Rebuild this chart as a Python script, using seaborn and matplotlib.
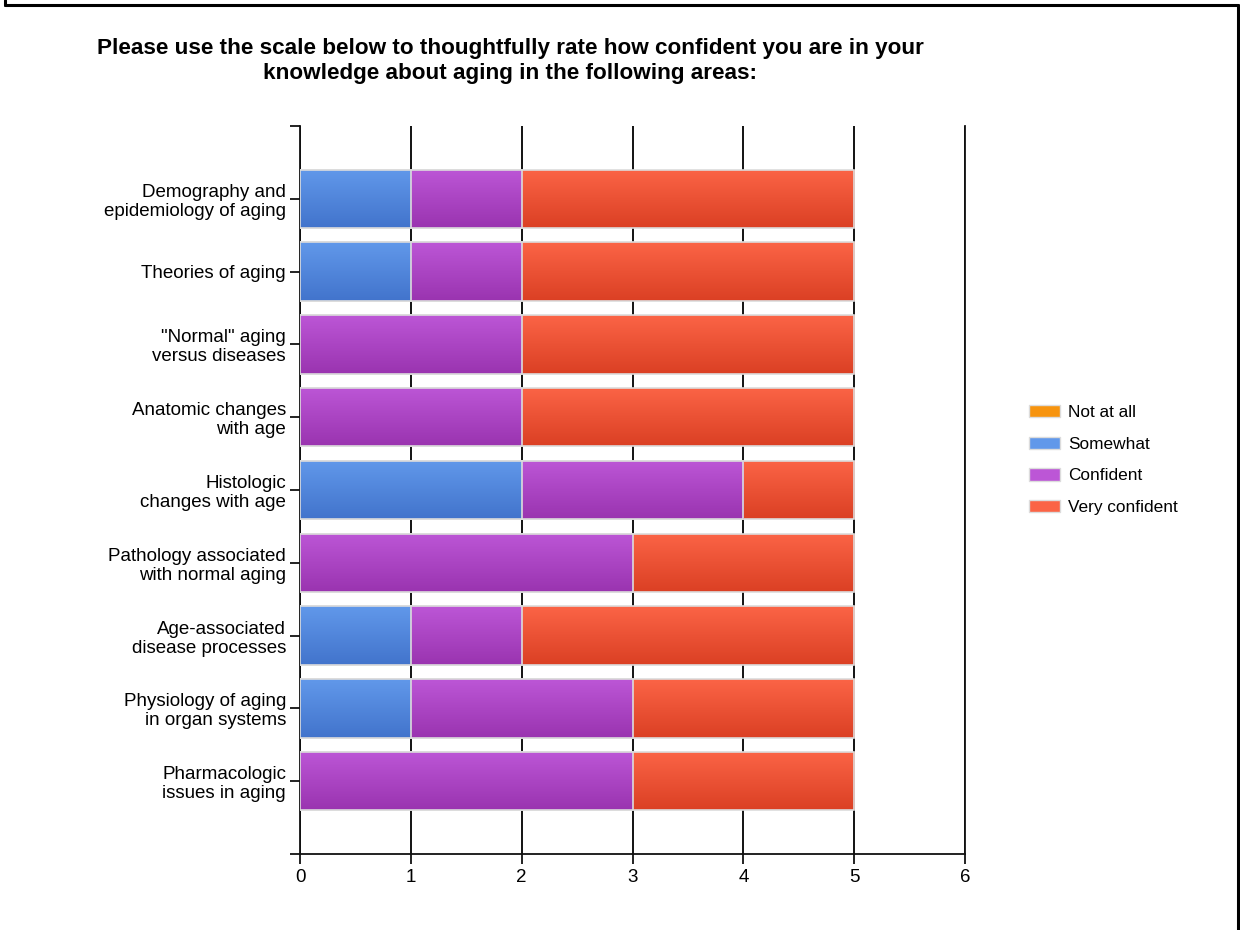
import numpy as np
import pandas as pd
import matplotlib
matplotlib.use("Agg")
import matplotlib.pyplot as plt
import seaborn as sns
from matplotlib.colors import LinearSegmentedColormap
from matplotlib.patches import Patch
from matplotlib.lines import Line2D

topics = [
    "Demography and\nepidemiology of aging",
    "Theories of aging",
    "\"Normal\" aging\nversus diseases",
    "Anatomic changes\nwith age",
    "Histologic\nchanges with age",
    "Pathology associated\nwith normal aging",
    "Age-associated\ndisease processes",
    "Physiology of aging\nin organ systems",
    "Pharmacologic\nissues in aging",
]
levels = ["Not at all", "Somewhat", "Confident", "Very confident"]
not_at_all = [0, 0, 0, 0, 0, 0, 0, 0, 0]
somewhat = [1, 1, 0, 0, 2, 0, 1, 1, 0]
confident = [1, 1, 2, 2, 2, 3, 1, 2, 3]
very_confident = [3, 3, 3, 3, 1, 2, 3, 2, 2]

title = ("Please use the scale below to thoughtfully rate how confident you are in your\n"
         "knowledge about aging in the following areas:")

# top / bottom shades of each series (bars have a vertical gradient)
shades = {
    "Not at all": ("#F7940F", "#E67A05"),
    "Somewhat": ("#6198EA", "#4274CC"),
    "Confident": ("#BC56D6", "#9A34B0"),
    "Very confident": ("#FB6446", "#DB4024"),
}


def main():
    sns.set_style("white")
    plt.rcParams["font.family"] = ["Liberation Sans", "DejaVu Sans"]
    plt.rcParams["text.color"] = "black"
    plt.rcParams["xtick.color"] = "black"
    plt.rcParams["ytick.color"] = "black"

    df = pd.DataFrame({
        "topic": topics,
        "Not at all": not_at_all,
        "Somewhat": somewhat,
        "Confident": confident,
        "Very confident": very_confident,
    })
    cum = df[levels].cumsum(axis=1)

    fig = plt.figure(figsize=(12.4, 9.3), dpi=100)
    ax = fig.add_axes([300 / 1240, 1 - 854 / 930, 665 / 1240, 728 / 930])

    grad = np.linspace(0, 1, 64).reshape(-1, 1)
    # draw cumulative totals, longest first, so the shorter ones sit on top
    for k, lvl in enumerate(reversed(levels)):
        n0 = len(ax.patches)
        sns.barplot(data=cum, x=lvl, y=df["topic"], orient="h", ax=ax,
                    color=shades[lvl][0], width=0.8, saturation=1,
                    edgecolor="#dcdcdc", linewidth=1.2)
        cmap = LinearSegmentedColormap.from_list(lvl, list(shades[lvl]))
        z = 3 + k
        for p in ax.patches[n0:]:
            w = p.get_width()
            p.set_zorder(z + 0.5)
            p.set_facecolor("none")
            if w <= 0:
                p.set_visible(False)
                continue
            x0, y0, h = p.get_x(), p.get_y(), p.get_height()
            im = ax.imshow(grad, extent=[x0, x0 + w, y0 + h, y0], aspect="auto",
                           cmap=cmap, zorder=z, interpolation="bilinear")
            im.set_clip_path(p)

    ax.set_xlim(0, 6)
    ax.set_ylim(9, -1)
    ax.set_xticks(range(7))
    ax.set_yticks(range(-1, 10))
    ax.set_yticklabels([""] + topics + [""])
    ax.set_xlabel("")
    ax.set_ylabel("")
    ax.xaxis.grid(True, color="black", lw=1.3)
    ax.yaxis.grid(False)
    ax.set_axisbelow(True)
    for s in ["left", "bottom", "right"]:
        ax.spines[s].set_color("#111111")
        ax.spines[s].set_linewidth(1.3)
    ax.spines["top"].set_visible(False)
    ax.tick_params(axis="both", length=7, width=1.3, color="#111111",
                   labelsize=13.5, direction="out", left=True, bottom=True)
    ax.tick_params(axis="y", pad=3)
    ax.tick_params(axis="x", pad=4)
    for t in ax.get_yticklabels():
        t.set_horizontalalignment("right")
        t.set_multialignment("right")
        t.set_linespacing(1.15)

    fig.text(510 / 1240, 1 - 61 / 930, title, ha="center", va="center",
             fontsize=16.2, fontweight="bold", linespacing=1.2)

    handles = [Patch(facecolor=shades[l][0], edgecolor="#dcdcdc") for l in levels]
    fig.legend(handles, levels, loc="center left",
               bbox_to_anchor=(1013 / 1240, 1 - 460 / 930), frameon=False,
               fontsize=12.4, handlelength=1.85, handleheight=0.75,
               labelspacing=0.95, handletextpad=0.45)

    # frame around the image
    for xs, ys in [([5, 5], [0, 5]), ([5, 1238], [5, 5]), ([1238, 1238], [5, 930])]:
        fig.add_artist(Line2D([x / 1240 for x in xs], [1 - y / 930 for y in ys],
                              color="black", lw=2.2, transform=fig.transFigure))

    fig.savefig("out.png", dpi=100)


if __name__ == "__main__":
    main()
